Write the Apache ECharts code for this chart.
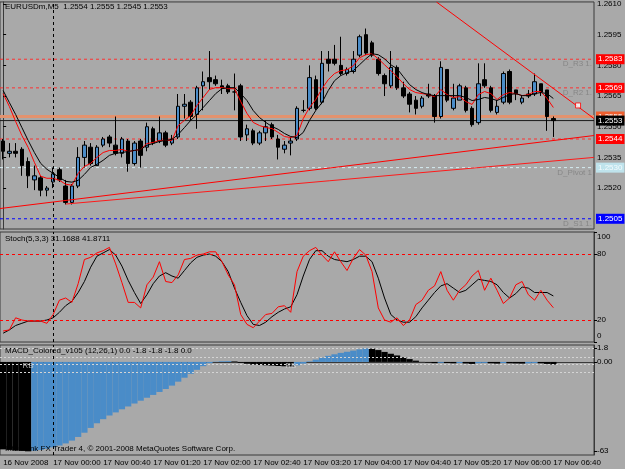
<!DOCTYPE html>
<html>
<head>
<meta charset="utf-8">
<script src="https://cdn.jsdelivr.net/npm/echarts@6/dist/echarts.min.js"></script>
<style>
  html, body { margin: 0; padding: 0; background: #a9a9a9; }
  #chart { width: 625px; height: 469px; }
</style>
</head>
<body>
<div id="chart"></div>
<script>
// M5 bars from 16 Nov 23:20, 95 slots (last 6 empty)
const startMinutes = 23 * 60 + 20;
const categories = [];
for (let i = 0; i < 95; i++) {
  const m = startMinutes + i * 5;
  const mm = m % 1440;
  categories.push((m >= 1440 ? '17' : '16') + ' Nov ' +
    String(Math.floor(mm / 60)).padStart(2, '0') + ':' + String(mm % 60).padStart(2, '0'));
}

// [open, close, low, high]
const ohlc = [
  [1.2543,1.2538,1.2534,1.2544],[1.2537,1.2538,1.2535,1.2542],[1.2538,1.2537,1.2535,1.2542],[1.2539,1.2531,1.2526,1.2540],
  [1.2533,1.2526,1.2520,1.2535],[1.2524,1.2526,1.2519,1.2531],[1.2525,1.2519,1.2516,1.2526],[1.2519,1.2520,1.2516,1.2521],
  [1.2523,1.2527,1.2520,1.2530],[1.2529,1.2524,1.2523,1.2530],[1.2521,1.2513,1.2512,1.2524],[1.2513,1.2521,1.2512,1.2522],
  [1.2521,1.2535,1.2520,1.2540],[1.2535,1.2541,1.2530,1.2543],[1.2540,1.2532,1.2531,1.2542],[1.2531,1.2540,1.2531,1.2541],
  [1.2541,1.2544,1.2540,1.2545],[1.2545,1.2542,1.2540,1.2546],[1.2541,1.2537,1.2536,1.2555],[1.2537,1.2544,1.2535,1.2545],
  [1.2543,1.2532,1.2528,1.2544],[1.2532,1.2542,1.2531,1.2543],[1.2543,1.2536,1.2530,1.2544],[1.2540,1.2550,1.2538,1.2552],
  [1.2549,1.2542,1.2541,1.2550],[1.2543,1.2547,1.2542,1.2555],[1.2547,1.2541,1.2540,1.2548],[1.2542,1.2544,1.2541,1.2546],
  [1.2545,1.2560,1.2544,1.2566],[1.2560,1.2561,1.2554,1.2566],[1.2562,1.2555,1.2553,1.2563],[1.2556,1.2569,1.2549,1.2570],
  [1.2570,1.2572,1.2558,1.2577],[1.2574,1.2572,1.2568,1.2587],[1.2573,1.2571,1.2570,1.2575],[1.2570,1.2569,1.2566,1.2573],
  [1.2570,1.2567,1.2566,1.2571],[1.2567,1.2567,1.2558,1.2576],[1.2570,1.2545,1.2543,1.2571],[1.2546,1.2549,1.2543,1.2551],
  [1.2548,1.2542,1.2541,1.2549],[1.2542,1.2547,1.2541,1.2548],[1.2547,1.2550,1.2543,1.2553],[1.2551,1.2545,1.2544,1.2552],
  [1.2544,1.2540,1.2534,1.2546],[1.2539,1.2541,1.2537,1.2543],[1.2542,1.2543,1.2536,1.2545],[1.2544,1.2559,1.2543,1.2560],
  [1.2558,1.2558,1.2557,1.2563],[1.2559,1.2574,1.2558,1.2580],[1.2573,1.2559,1.2558,1.2575],[1.2562,1.2581,1.2561,1.2587],
  [1.2583,1.2581,1.2577,1.2587],[1.2583,1.2581,1.2580,1.2590],[1.2580,1.2576,1.2575,1.2594],[1.2576,1.2578,1.2575,1.2579],
  [1.2577,1.2583,1.2576,1.2587],[1.2585,1.2594,1.2584,1.2595],[1.2595,1.2586,1.2585,1.2598],[1.2591,1.2585,1.2584,1.2592],
  [1.2583,1.2576,1.2575,1.2584],[1.2575,1.2571,1.2565,1.2576],[1.2570,1.2579,1.2569,1.2587],[1.2579,1.2569,1.2568,1.2580],
  [1.2569,1.2565,1.2564,1.2572],[1.2566,1.2561,1.2557,1.2567],[1.2563,1.2559,1.2556,1.2565],[1.2560,1.2564,1.2559,1.2565],
  [1.2566,1.2565,1.2564,1.2571],[1.2565,1.2555,1.2552,1.2566],[1.2555,1.2579,1.2554,1.2582],[1.2578,1.2563,1.2562,1.2578],
  [1.2559,1.2564,1.2558,1.2571],[1.2563,1.2570,1.2563,1.2571],[1.2569,1.2558,1.2557,1.2570],[1.2559,1.2551,1.2550,1.2560],
  [1.2552,1.2571,1.2551,1.2581],[1.2573,1.2570,1.2569,1.2581],[1.2569,1.2558,1.2557,1.2570],[1.2557,1.2560,1.2556,1.2563],
  [1.2562,1.2576,1.2561,1.2577],[1.2577,1.2562,1.2561,1.2578],[1.2568,1.2566,1.2563,1.2568],[1.2562,1.2564,1.2561,1.2565],
  [1.2566,1.2565,1.2564,1.2568],[1.2566,1.2572,1.2565,1.2576],[1.2571,1.2567,1.2565,1.2571],[1.2568,1.2555,1.2548,1.2568],
  [1.2554,1.2553,1.2545,1.2555]
];

const maFast = [
  1.25662,1.25599,1.25526,1.25457,1.25399,1.25326,1.25258,1.25248,1.25248,1.25238,1.25219,1.25214,1.25272,1.25306,1.25321,1.25350,
  1.25374,1.25384,1.25384,1.25389,1.25379,1.25384,1.25389,1.25418,1.25423,1.25433,1.25433,1.25433,1.25506,1.25531,1.25555,1.25604,
  1.25643,1.25682,1.25691,1.25691,1.25686,1.25686,1.25623,1.25565,1.25521,1.25506,1.25496,1.25491,1.25472,1.25452,1.25447,1.25457,
  1.25540,1.25594,1.25633,1.25686,1.25730,1.25760,1.25774,1.25779,1.25798,1.25837,1.25852,1.25857,1.25832,1.25803,1.25774,1.25745,
  1.25711,1.25682,1.25667,1.25662,1.25657,1.25647,1.25682,1.25657,1.25643,1.25647,1.25623,1.25609,1.25657,1.25672,1.25662,1.25633,
  1.25657,1.25667,1.25662,1.25652,1.25657,1.25672,1.25672,1.25638,1.25594
];
const maSlow = [
  1.25677,1.25618,1.25560,1.25496,1.25433,1.25374,1.25321,1.25292,1.25272,1.25253,1.25233,1.25229,1.25238,1.25267,1.25301,1.25316,
  1.25336,1.25360,1.25370,1.25374,1.25379,1.25384,1.25389,1.25409,1.25418,1.25428,1.25433,1.25438,1.25462,1.25496,1.25531,1.25560,
  1.25594,1.25628,1.25662,1.25686,1.25691,1.25691,1.25662,1.25628,1.25579,1.25545,1.25521,1.25501,1.25487,1.25467,1.25452,1.25447,
  1.25472,1.25531,1.25579,1.25618,1.25677,1.25725,1.25750,1.25764,1.25774,1.25803,1.25832,1.25857,1.25852,1.25832,1.25803,1.25784,
  1.25745,1.25706,1.25682,1.25667,1.25657,1.25652,1.25652,1.25652,1.25652,1.25652,1.25643,1.25628,1.25633,1.25643,1.25638,1.25628,
  1.25643,1.25657,1.25662,1.25652,1.25652,1.25662,1.25667,1.25662,1.25638
];

const stochMain = [
  10,11,22,20,19,19,19,17,25,38,40,36,53,75,77,81,83,86,71,54,36,36,31,52,59,73,55,54,61,75,76,79,
  80,82,82,73,61,52,25,16,13,19,25,26,32,33,27,64,78,83,86,79,73,82,73,65,76,84,79,64,31,20,18,22,
  15,20,34,38,47,51,64,47,38,47,52,60,65,47,58,47,35,40,52,55,43,38,47,38,31.1688
];
const stochSignal = [
  8,11,15,17,19,19,19,20,22,27,33,37,45,55,68,78,81,84,79,69,56,45,35,43,53,60,63,60,58,65,72,77,
  79,80,78,73,64,49,36,24,16,15,18,23,27,30,32,43,60,75,83,83,78,75,74,73,75,78,78,73,58,40,25,20,
  18,18,23,31,38,45,51,53,49,45,47,52,57,56,55,52,45,40,44,50,49,45,45,45,41.8711
];

const macdHist = [
  -62.0,-62.4,-62.8,-63.1,-63.4,-63.0,-62.4,-61.6,-60.6,-59.3,-57.8,-55.8,-53.2,-50.2,-46.8,-43.5,
  -40.6,-38.0,-35.8,-33.6,-31.6,-29.5,-27.5,-25.4,-23.4,-21.3,-19.2,-16.8,-14.0,-11.2,-8.4,-5.6,
  -3.0,-0.9,0.2,0.5,0.6,0.4,-0.6,-1.3,-1.9,-2.2,-2.4,-2.6,-2.9,-3.1,-3.2,-2.4,
  -1.2,0.4,1.6,3.0,4.3,5.4,6.4,7.2,8.0,8.9,9.6,9.4,8.4,7.1,5.8,4.6,
  3.3,2.0,0.9,0.1,-0.4,-0.9,-0.6,-0.8,-1.0,-0.8,-1.1,-1.4,-0.9,-0.7,-1.0,-1.2,
  -0.8,-1.0,-1.1,-1.2,-1.0,-0.8,-1.0,-1.4,-1.8
];
const macdLevels = [9.9, 3.5, -1.4, -7.1];
const macdTickValues = [9.9, 0, -63];
const macdTickText = ['1.8', '0.00', '-63'];
const rbMarks = [[4, -2.8], [46, -2.8]];

const priceTicks = [1.2520, 1.2535, 1.2550, 1.2565, 1.2580, 1.2595, 1.2610];
const stochTicks = [0, 20, 80, 100];

// horizontal price levels
const pivotPrices = [1.2583, 1.2569, 1.2530, 1.2505];
const pivotNames = ['D_R3 1.', 'D_R2 1.', 'D_Pivot 1', 'D_S1 1.'];
const stopPrice = 1.2544;
const askPrice = 1.2555;
const bidPrice = 1.2553;

// trendlines: [bar position, price]
const trendUpA = [[-0.5, 1.25100], [94.5, 1.25457]];
const trendUpB = [[10, 1.25122], [94.5, 1.25350]];
const trendDown = [[69.3, 1.26110], [94.5, 1.25540]];
const trendAnchor = [[91.95, 1.25604]];

const FONT = '"Liberation Sans", Arial, sans-serif';
const BULL = '#4a8cc8';
const X0 = -0.5, X1 = 94.5;

function level(price, color, type, width, boxColor, textColor, z) {
  return {
    type: 'line', xAxisIndex: 1, yAxisIndex: 0, z: z || 3, silent: true,
    data: [[X0, price], [X1, price]], showSymbol: false,
    lineStyle: { color: color, type: type, width: width },
    endLabel: {
      show: true, distance: 2, formatter: price.toFixed(4),
      backgroundColor: boxColor, color: textColor, padding: [1, 2, 1, 2],
      fontSize: 8, fontFamily: FONT
    }
  };
}
const separator = { xAxis: 8, lineStyle: { color: '#000', type: [3, 3], width: 1 }, label: { show: false } };
const pivotColors = [['#ff3030', '#ff0000', '#fff'], ['#ff3030', '#ff0000', '#fff'], ['#d6eef4', '#bfe3ec', '#f4fbfd'], ['#0000ff', '#0000ff', '#fff']];

const chart = echarts.init(document.getElementById('chart'));
chart.setOption({
  animation: false,
  backgroundColor: '#a9a9a9',
  textStyle: { fontFamily: FONT },
  title: [
    { text: 'EURUSDm,M5  1.2554 1.2555 1.2545 1.2553', left: 5, top: 3, padding: 0 },
    { text: 'Stoch(5,3,3) 31.1688 41.8711', left: 5, top: 235, padding: 0 },
    { text: 'MACD_Colored_v105 (12,26,1) 0.0 -1.8 -1.8 -1.8 0.0', left: 5, top: 347, padding: 0 },
    { text: 'Interbank FX Trader 4, \u00a9 2001-2008 MetaQuotes Software Corp.', left: 5, top: 445, padding: 0 }
  ].map(t => Object.assign(t, { textStyle: { fontSize: 8, fontWeight: 'normal', color: '#000', fontFamily: FONT } })),
  grid: [
    { left: -1, top: 1, width: 595, height: 228, show: true, borderColor: '#3a3a3a', borderWidth: 1 },
    { left: -1, top: 232, width: 595, height: 110, show: true, borderColor: '#3a3a3a', borderWidth: 1 },
    { left: -1, top: 345, width: 595, height: 110, show: true, borderColor: '#3a3a3a', borderWidth: 1 }
  ],
  xAxis: [
    { type: 'category', gridIndex: 0, data: categories, show: false },
    { type: 'value', gridIndex: 0, min: X0, max: X1, show: false },
    { type: 'category', gridIndex: 1, data: categories, show: false },
    {
      type: 'category', gridIndex: 2, data: categories,
      axisLine: { lineStyle: { color: '#3a3a3a' } },
      axisTick: { interval: 7, alignWithLabel: true, length: 4, lineStyle: { color: '#000' } },
      axisLabel: {
        interval: 7, align: 'left', margin: 4, fontSize: 8, color: '#000', fontFamily: FONT,
        formatter: (v, i) => i === 0 ? '16 Nov 2008' : v
      },
      splitLine: { show: false }
    }
  ],
  yAxis: [
    {
      type: 'value', gridIndex: 0, position: 'right', min: 1.2500, max: 1.2611,
      axisLine: { show: true, lineStyle: { color: '#3a3a3a' } },
      axisTick: { show: true, length: 3, customValues: priceTicks, lineStyle: { color: '#000' } },
      axisLabel: { customValues: priceTicks, formatter: v => v.toFixed(4), fontSize: 8, color: '#000', margin: 3, fontFamily: FONT },
      splitLine: { show: false }
    },
    {
      type: 'value', gridIndex: 1, position: 'right', min: 0, max: 100,
      axisLine: { show: true, lineStyle: { color: '#3a3a3a' } },
      axisTick: { show: true, length: 3, customValues: stochTicks, lineStyle: { color: '#000' } },
      axisLabel: {
        customValues: stochTicks, margin: 3,
        formatter: v => v === 100 ? '{t|100}' : v === 0 ? '{b|0}' : '{n|' + v + '}',
        rich: {
          t: { fontSize: 8, color: '#000', padding: [10, 0, 0, 0], fontFamily: FONT },
          b: { fontSize: 8, color: '#000', padding: [0, 0, 12, 0], fontFamily: FONT },
          n: { fontSize: 8, color: '#000', fontFamily: FONT }
        }
      },
      splitLine: { show: false }
    },
    {
      type: 'value', gridIndex: 2, position: 'right', min: -66, max: 12,
      axisLine: { show: true, lineStyle: { color: '#3a3a3a' } },
      axisTick: { show: true, length: 3, customValues: macdTickValues, lineStyle: { color: '#000' } },
      axisLabel: {
        customValues: macdTickValues, margin: 3, fontSize: 8, color: '#000', fontFamily: FONT,
        formatter: v => macdTickText[macdTickValues.indexOf(v)]
      },
      splitLine: { show: false }
    }
  ],
  series: [
    // price levels (drawn under candles)
    ...pivotPrices.map((p, i) => level(p, pivotColors[i][0], [3, 3], 1, pivotColors[i][1], pivotColors[i][2], 1)),
    level(stopPrice, '#ff3030', [3, 3], 1, '#ff0000', '#fff', 1),
    level(askPrice, '#e3926e', 'solid', 3, '#f06030', '#fff', 1),
    level(bidPrice, '#1a1a1a', 'solid', 1, '#000', '#fff', 1),
    {
      type: 'scatter', xAxisIndex: 1, yAxisIndex: 0, silent: true, z: 1,
      data: pivotPrices.map((p, i) => ({ value: [X1, p], name: pivotNames[i] })),
      symbolSize: 0,
      label: {
        show: true, formatter: '{b}', position: [-2, 1], align: 'right', verticalAlign: 'top',
        color: '#7e7e7e', fontSize: 8, fontFamily: FONT
      }
    },
    {
      name: 'EURUSDm', type: 'candlestick', xAxisIndex: 0, yAxisIndex: 0,
      data: ohlc, barWidth: 4, z: 2,
      itemStyle: { color: BULL, color0: '#000', borderColor: '#000', borderColor0: '#000', borderWidth: 1 },
      markLine: { silent: true, symbol: ['none', 'none'], data: [separator] }
    },
    { name: 'MA fast', type: 'line', xAxisIndex: 0, yAxisIndex: 0, data: maFast, showSymbol: false, lineStyle: { color: '#ff0000', width: 1 }, z: 4 },
    { name: 'MA slow', type: 'line', xAxisIndex: 0, yAxisIndex: 0, data: maSlow, showSymbol: false, lineStyle: { color: '#000', width: 1 }, z: 4 },
    { type: 'line', xAxisIndex: 1, yAxisIndex: 0, data: trendUpA, showSymbol: false, lineStyle: { color: '#ff0000', width: 1 }, z: 5 },
    { type: 'line', xAxisIndex: 1, yAxisIndex: 0, data: trendUpB, showSymbol: false, lineStyle: { color: '#ff1a1a', width: 1 }, z: 5 },
    { type: 'line', xAxisIndex: 1, yAxisIndex: 0, data: trendDown, showSymbol: false, lineStyle: { color: '#ff0000', width: 1 }, z: 5 },
    {
      type: 'scatter', xAxisIndex: 1, yAxisIndex: 0, data: trendAnchor, symbol: 'rect', symbolSize: 5,
      itemStyle: { color: '#fff', borderColor: '#ff0000', borderWidth: 1 }, z: 6
    },
    {
      name: 'Stoch main', type: 'line', xAxisIndex: 2, yAxisIndex: 1, data: stochMain, showSymbol: false,
      lineStyle: { color: '#ff0000', width: 1 }, z: 4,
      markLine: {
        silent: true, symbol: ['none', 'none'], label: { show: false },
        data: [
          { yAxis: 80, lineStyle: { color: '#ff0000', type: [3, 3], width: 1 } },
          { yAxis: 20, lineStyle: { color: '#ff0000', type: [3, 3], width: 1 } },
          separator
        ]
      }
    },
    { name: 'Stoch signal', type: 'line', xAxisIndex: 2, yAxisIndex: 1, data: stochSignal, showSymbol: false, lineStyle: { color: '#000', width: 1 }, z: 3 },
    {
      name: 'MACD', type: 'bar', xAxisIndex: 3, yAxisIndex: 2, barCategoryGap: '0%',
      data: macdHist.map((v, i) => ({
        value: v,
        itemStyle: { color: i > 0 && v > macdHist[i - 1] ? BULL : '#000' }
      }))
    },
    {
      type: 'scatter', xAxisIndex: 3, yAxisIndex: 2, data: rbMarks, symbolSize: 1, z: 5,
      itemStyle: { color: 'rgba(0,0,0,0)' },
      label: { show: true, position: 'inside', formatter: 'RB', color: '#d8d8d8', fontSize: 8, fontFamily: FONT },
      markLine: {
        silent: true, symbol: ['none', 'none'], label: { show: false },
        data: macdLevels.map(v => ({ yAxis: v, lineStyle: { color: '#d4d4d4', type: [2, 2], width: 1 } })).concat([separator])
      }
    }
  ]
});
</script>
</body>
</html>
